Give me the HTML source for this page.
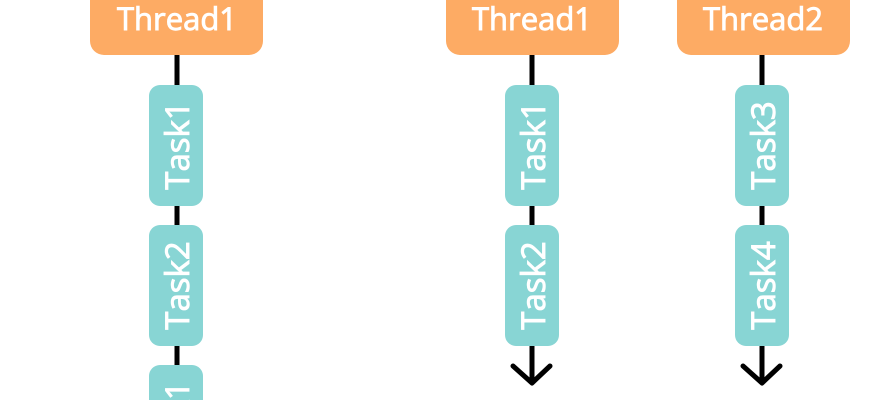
<!DOCTYPE html>
<html><head><style>html,body{margin:0;padding:0;background:#fff;width:870px;height:400px;overflow:hidden;}svg{display:block;overflow:hidden}</style></head>
<body>
<svg width="870" height="400" viewBox="0 0 870 400" xmlns="http://www.w3.org/2000/svg" font-family="'Open Sans','DejaVu Sans','Liberation Sans',sans-serif">
<g stroke="#000" stroke-width="5" fill="none">
<line x1="177" y1="50" x2="177" y2="400"/>
<line x1="532" y1="50" x2="532" y2="383"/>
<line x1="762" y1="50" x2="762" y2="383"/>
<polyline points="513,366 532,383 550,366" stroke-linecap="round" stroke-linejoin="round"/>
<polyline points="743,366 762,383 780,366" stroke-linecap="round" stroke-linejoin="round"/>
</g>
<g fill="#FDAB64">
<rect x="90" y="-30" width="173" height="85" rx="14"/>
<rect x="446" y="-30" width="173" height="85" rx="14"/>
<rect x="677" y="-30" width="173" height="85" rx="14"/>
</g>
<g fill="#fff" stroke="#fff" stroke-width="0.9" font-size="31" text-anchor="middle">
<text x="177" y="30">Thread1</text>
<text x="532" y="30">Thread1</text>
<text x="763" y="30">Thread2</text>
</g>
<g fill="#88D5D4">
<rect x="149" y="85" width="54" height="121" rx="11"/>
<rect x="149" y="225" width="54" height="121" rx="11"/>
<rect x="149" y="365" width="54" height="121" rx="11"/>
<rect x="505" y="85" width="54" height="121" rx="11"/>
<rect x="505" y="225" width="54" height="121" rx="11"/>
<rect x="735" y="85" width="54" height="121" rx="11"/>
<rect x="735" y="225" width="54" height="121" rx="11"/>
</g>
<g fill="#fff" stroke="#fff" stroke-width="0.9" font-size="33" text-anchor="middle">
<text transform="translate(189,145.5) rotate(-90)">Task1</text>
<text transform="translate(189,285.5) rotate(-90)">Task2</text>
<text transform="translate(189,425.5) rotate(-90)">Task1</text>
<text transform="translate(545,145.5) rotate(-90)">Task1</text>
<text transform="translate(545,285.5) rotate(-90)">Task2</text>
<text transform="translate(775,145.5) rotate(-90)">Task3</text>
<text transform="translate(775,285.5) rotate(-90)">Task4</text>
</g>
</svg>
</body></html>
